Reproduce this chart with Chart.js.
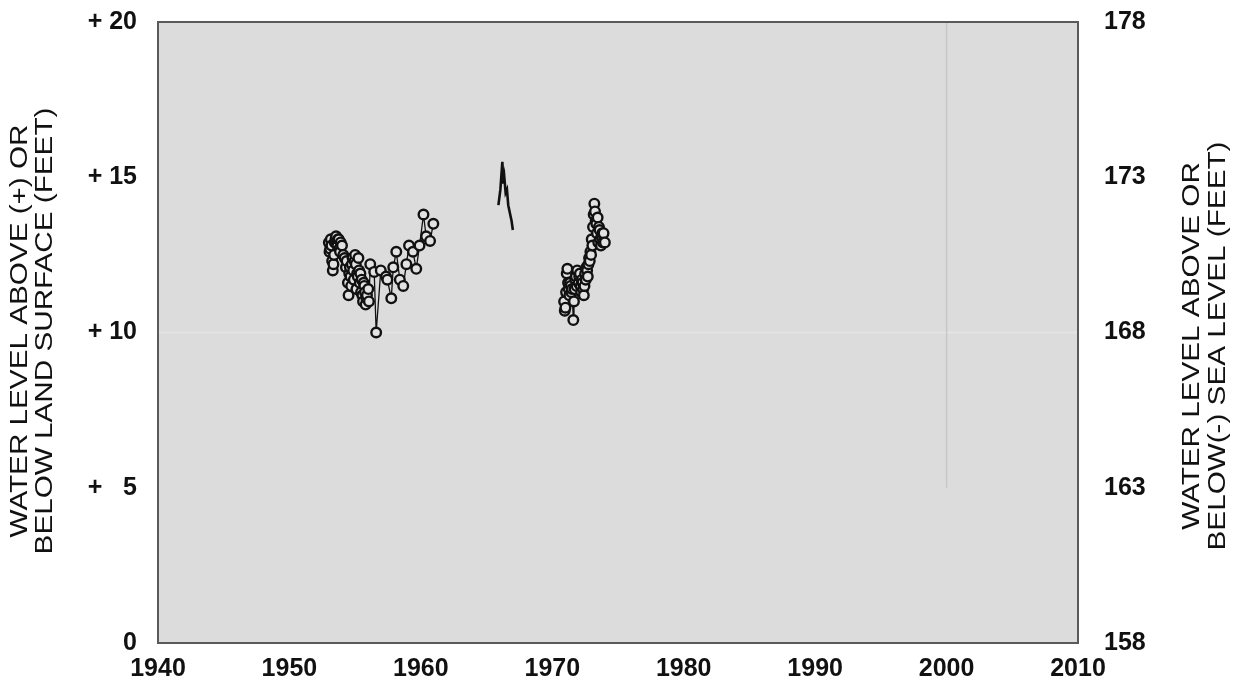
<!DOCTYPE html>
<html>
<head>
<meta charset="utf-8">
<script src="https://cdn.jsdelivr.net/npm/chart.js@4"></script>
<style>
  html, body { margin: 0; padding: 0; background: #fff; }
  #wrap { width: 1241px; height: 692px; position: relative; }
</style>
</head>
<body>
<div id="wrap"><canvas id="hydro"></canvas></div>
<script>
// water level, feet above land surface
const earlyYears = [1953.0, 1953.05, 1953.1, 1953.15, 1953.2, 1953.25, 1953.3, 1953.35, 1953.4, 1953.45,
    1953.5, 1953.55, 1953.6, 1953.65, 1953.7, 1953.75, 1953.8, 1953.85, 1953.9, 1954.0,
    1954.1, 1954.2, 1954.3, 1954.35, 1954.45, 1954.5, 1954.55, 1954.6, 1954.65, 1954.7,
    1954.75, 1954.8, 1954.85, 1954.9, 1954.95, 1955.0, 1955.05, 1955.1, 1955.15, 1955.2,
    1955.25, 1955.3, 1955.35, 1955.4, 1955.45, 1955.5, 1955.55, 1955.6, 1955.65, 1955.7,
    1955.75, 1955.8, 1955.85, 1955.9, 1956.0, 1956.05, 1956.15, 1956.45, 1956.6,
    1956.95, 1957.35, 1957.45, 1957.75, 1957.9, 1958.13, 1958.4, 1958.66, 1958.9, 1959.1,
    1959.4, 1959.65, 1959.9, 1960.2, 1960.4, 1960.7, 1960.95];
const earlyLevels = [12.9, 12.6, 12.7, 13.0, 12.8, 12.3, 12.0, 12.2, 12.5, 12.9,
    13.0, 13.1, 12.9, 12.8, 13.0, 13.0, 12.7, 12.6, 12.9, 12.8,
    12.5, 12.4, 12.1, 12.3, 11.6, 11.2, 11.9, 12.1, 11.8, 11.5,
    12.2, 12.4, 12.0, 11.7, 12.3, 12.5, 12.2, 11.4, 11.9, 11.8,
    12.4, 12.0, 11.6, 11.9, 11.3, 11.7, 11.2, 11.0, 11.6, 11.5,
    11.3, 10.9, 11.1, 11.2, 11.4, 11.0, 12.2, 11.95, 10.0,
    12.0, 11.8, 11.7, 11.1, 12.1, 12.6, 11.7, 11.5, 12.2, 12.8,
    12.6, 12.05, 12.8, 13.8, 13.1, 12.95, 13.5];

const midYears = [1965.9, 1966.05, 1966.15, 1966.2, 1966.28, 1966.35, 1966.45, 1966.55, 1966.65, 1966.75, 1966.9, 1967.0];
const midLevels = [14.1, 14.6, 15.2, 15.5, 14.8, 15.0, 14.5, 14.6, 14.1, 13.9, 13.6, 13.3];

const lateYears = [1970.9, 1970.95, 1971.0, 1971.05, 1971.1, 1971.15, 1971.2, 1971.25, 1971.3, 1971.35,
    1971.4, 1971.45, 1971.5, 1971.6, 1971.65, 1971.7, 1971.75, 1971.8, 1971.85, 1971.9,
    1972.0, 1972.05, 1972.1, 1972.15, 1972.2, 1972.25, 1972.3, 1972.35, 1972.4, 1972.45,
    1972.5, 1972.55, 1972.6, 1972.65, 1972.7, 1972.75, 1972.8, 1972.85, 1972.9, 1972.95,
    1973.0, 1973.05, 1973.1, 1973.15, 1973.2, 1973.25, 1973.3, 1973.35, 1973.4, 1973.45,
    1973.5, 1973.55, 1973.6, 1973.65, 1973.7, 1973.75, 1973.8, 1973.85, 1973.9, 1974.0];
const lateLevels = [11.0, 10.7, 10.8, 11.3, 11.9, 12.05, 11.6, 11.4, 11.2, 11.6,
    11.5, 11.3, 11.4, 10.4, 11.0, 11.4, 11.7, 11.8, 11.5, 12.0,
    11.6, 11.8, 11.9, 11.5, 11.3, 11.7, 11.6, 11.4, 11.2, 11.5,
    11.9, 11.7, 12.1, 12.0, 11.8, 12.2, 12.4, 12.3, 12.6, 12.5,
    13.0, 12.8, 13.4, 13.8, 14.15, 13.9, 13.6, 13.5, 13.2, 13.7,
    12.9, 13.4, 13.3, 13.0, 12.8, 13.1, 13.2, 12.9, 13.2, 12.9];

// faint reference lines seen on the plot
const markYears = [2000, 2000];
const markLevels = [20, 5];
const tenYears = [1940, 2010];
const tenLevels = [10, 10];

const yearTicks = [1940, 1950, 1960, 1970, 1980, 1990, 2000, 2010];
const landTicks = [0, 5, 10, 15, 20];
const seaTicks = [158, 163, 168, 173, 178];
const leftTitle = ['WATER LEVEL ABOVE (+) OR', 'BELOW LAND SURFACE (FEET)'];
const rightTitle = ['WATER LEVEL ABOVE OR', 'BELOW(-) SEA LEVEL (FEET)'];

const pts = (xs, ys) => xs.map((x, i) => ({ x, y: ys[i] }));

const tickFont = { family: '"Liberation Sans", Arial, sans-serif', size: 25, weight: 'bold' };

const plotBox = {
    id: 'plotBox',
    beforeDatasetsDraw(chart) {
        const { ctx, chartArea: a } = chart;
        ctx.save();
        ctx.fillStyle = '#dcdcdc';
        ctx.fillRect(a.left, a.top, a.width, a.height);
        ctx.restore();
    },
    afterDatasetsDraw(chart) {
        const { ctx, chartArea: a } = chart;
        ctx.save();
        ctx.strokeStyle = '#5a5a5a';
        ctx.lineWidth = 2;
        ctx.strokeRect(a.left, a.top, a.width, a.height);
        ctx.restore();
    },
    afterDraw(chart) {
        const { ctx } = chart;
        const drawLines = (lines, xs, cy) => {
            lines.forEach((t, i) => {
                ctx.save();
                ctx.translate(xs[i], cy);
                ctx.rotate(-Math.PI / 2);
                ctx.scale(1.29, 1);
                ctx.font = '23px "Liberation Sans", Arial, sans-serif';
                ctx.fillStyle = '#111';
                ctx.textAlign = 'center';
                ctx.textBaseline = 'middle';
                ctx.fillText(t, 0, 0);
                ctx.restore();
            });
        };
        drawLines(leftTitle, [21, 46], 331);
        drawLines(rightTitle, [1193, 1219], 346);
    }
};

const markerSet = {
    showLine: true,
    order: 0,
    borderColor: '#111',
    borderWidth: 1.3,
    pointRadius: 4.8,
    pointBorderWidth: 2.4,
    pointBorderColor: '#111',
    pointBackgroundColor: '#e2e2e2'
};

const noPad = s => { s.paddingTop = 0; s.paddingBottom = 0; };

new Chart(document.getElementById('hydro'), {
    type: 'scatter',
    data: {
        datasets: [
            { data: pts(tenYears, tenLevels), order: 10, showLine: true, borderColor: '#e4e4e4', borderWidth: 2, pointRadius: 0 },
            { data: pts(markYears, markLevels), order: 9, showLine: true, borderColor: '#c8c8c8', borderWidth: 1.5, pointRadius: 0 },
            Object.assign({ data: pts(earlyYears, earlyLevels) }, markerSet),
            { data: pts(midYears, midLevels), order: 0, showLine: true, borderColor: '#111', borderWidth: 2.6, pointRadius: 0 },
            Object.assign({ data: pts(lateYears, lateLevels) }, markerSet)
        ]
    },
    options: {
        responsive: true,
        maintainAspectRatio: false,
        animation: false,
        layout: { padding: { top: 22, bottom: 0, left: 0, right: 0 } },
        plugins: { legend: { display: false }, tooltip: { enabled: false } },
        scales: {
            x: {
                type: 'linear',
                min: 1940,
                max: 2010,
                afterBuildTicks: s => { s.ticks = yearTicks.map(v => ({ value: v })); },
                afterFit: s => { s.height = 49; },
                grid: { display: false },
                border: { display: false },
                ticks: { font: tickFont, color: '#111', padding: 3, maxRotation: 0, callback: v => String(v) }
            },
            y: {
                min: 0,
                max: 20,
                position: 'left',
                afterBuildTicks: s => { s.ticks = landTicks.map(v => ({ value: v })); },
                afterFit: s => { s.width = 158; noPad(s); },
                grid: { display: false },
                border: { display: false },
                ticks: {
                    font: tickFont,
                    color: '#111',
                    padding: 13,
                    callback: v => v === 0 ? '0' : (v < 10 ? '+   ' + v : '+ ' + v)
                }
            },
            y2: {
                min: 158,
                max: 178,
                position: 'right',
                afterBuildTicks: s => { s.ticks = seaTicks.map(v => ({ value: v })); },
                afterFit: s => { s.width = 163; noPad(s); },
                grid: { display: false },
                border: { display: false },
                ticks: { font: tickFont, color: '#111', padding: 18, callback: v => String(v) }
            }
        }
    },
    plugins: [plotBox]
});
</script>
</body>
</html>
